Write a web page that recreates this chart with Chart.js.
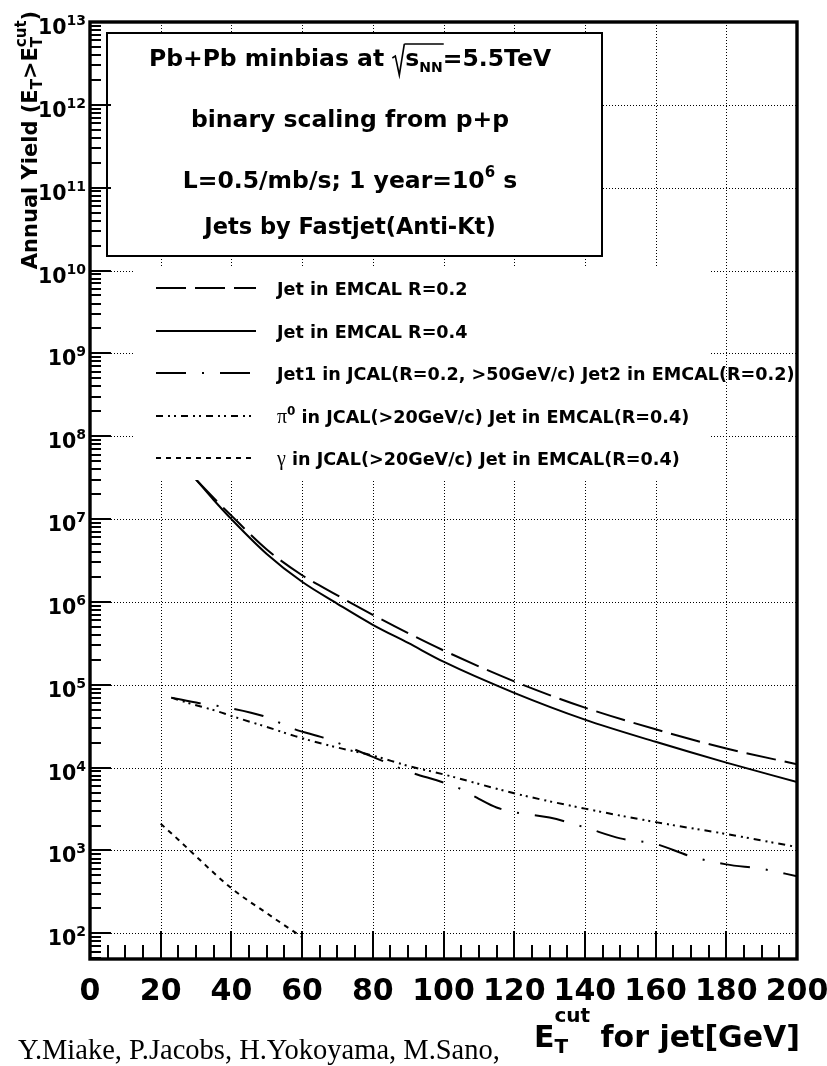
<!DOCTYPE html>
<html>
<head>
<meta charset="utf-8">
<script src="https://cdn.jsdelivr.net/npm/chart.js@4.4.1/dist/chart.umd.min.js"></script>
<style>
  html, body { margin: 0; padding: 0; background: #fff; }
  #wrap { width: 827px; height: 1066px; }
</style>
</head>
<body>
<div id="wrap"><canvas id="myChart" width="827" height="1066"></canvas></div>
<script>
// E_T cut [GeV] vs annual yield
const etJet02 = [30, 35, 40, 50, 60, 70, 80, 90, 100, 120, 140, 160, 180, 200];
const yJet02 = [3.0e7, 1.8e7, 1.1e7, 4.3e6, 2.1e6, 1.2e6, 7.0e5, 4.2e5, 2.6e5, 1.1e5, 5.3e4, 2.9e4, 1.7e4, 1.1e4];

const etJet04 = [30, 35, 40, 50, 60, 70, 80, 90, 100, 120, 140, 160, 180, 200];
const yJet04 = [3.0e7, 1.7e7, 1.0e7, 3.8e6, 1.75e6, 9.5e5, 5.3e5, 3.2e5, 1.9e5, 8.0e4, 3.8e4, 2.05e4, 1.15e4, 6.7e3];

const etJcal = [23, 31, 40, 49, 58, 66, 80, 90, 100, 105, 110, 115, 120, 130, 140, 150, 160, 170, 180, 190, 200];
const yJcal = [7.0e4, 6.0e4, 5.2e4, 4.2e4, 2.9e4, 2.3e4, 1.35e4, 9.0e3, 6.6e3, 5.5e3, 4.2e3, 3.3e3, 2.9e3, 2.5e3, 1.9e3, 1.4e3, 1.2e3, 8.5e2, 6.8e2, 6.0e2, 4.9e2];

const etPi0 = [23, 28, 36, 40, 50, 58, 70, 80, 90, 100, 120, 140, 160, 180, 200];
const yPi0 = [7.0e4, 6.0e4, 4.8e4, 4.2e4, 3.1e4, 2.4e4, 1.75e4, 1.4e4, 1.05e4, 8.3e3, 4.9e3, 3.2e3, 2.2e3, 1.58e3, 1.1e3];

const etGamma = [20, 25, 30, 40, 50, 60];
const yGamma = [2.1e3, 1.35e3, 8.5e2, 3.5e2, 1.75e2, 9.0e1];

const xTicks = [0, 20, 40, 60, 80, 100, 120, 140, 160, 180, 200];
const yDecades = [2, 3, 4, 5, 6, 7, 8, 9, 10, 11, 12, 13];

const SANS = '"DejaVu Sans", Verdana, sans-serif';
const SERIF = '"Liberation Serif", "Times New Roman", serif';

const dashJet02 = [30, 9];
const dashJcal = [30, 16, 2, 16];
const dashPi0 = [7, 5, 2, 4, 2, 5];
const dashGamma = [5, 5];

function pts(xs, ys) {
  return xs.map((x, i) => ({ x: x, y: ys[i] }));
}

// rich text: runs of {t, size, dy, family, weight, stack, over} or {rad}
function runFont(r) {
  return (r.weight || 'bold') + ' ' + r.size + 'px ' + (r.family || SANS);
}
function richWidth(ctx, runs) {
  let cx = 0, start = 0, end = 0;
  runs.forEach(r => {
    ctx.font = runFont(r);
    const w = r.rad ? r.rad : ctx.measureText(r.t).width;
    if (r.stack) { cx = start; }
    const prevEnd = end;
    start = cx;
    end = Math.max(end, cx + w);
    cx = r.stack ? Math.max(cx + w, prevEnd) : cx + w;
  });
  return Math.max(cx, end);
}
function drawRich(ctx, runs, x, y, align) {
  const w = richWidth(ctx, runs);
  let cx = align === 'center' ? x - w / 2 : align === 'right' ? x - w : x;
  let start = cx, end = cx, overStart = null, overEnd = null, overY = 0;
  ctx.textAlign = 'left';
  ctx.textBaseline = 'alphabetic';
  runs.forEach(r => {
    if (r.rad) {
      ctx.save();
      ctx.lineWidth = 1.6;
      ctx.beginPath();
      ctx.moveTo(cx, y - 8);
      ctx.lineTo(cx + 3, y - 10);
      ctx.lineTo(cx + 7, y + 9);
      ctx.lineTo(cx + r.rad - 1, y - 22);
      ctx.stroke();
      ctx.restore();
      overStart = cx + r.rad - 1;
      overY = y - 22;
      start = cx;
      cx += r.rad;
      end = cx;
      return;
    }
    ctx.font = runFont(r);
    const tw = ctx.measureText(r.t).width;
    if (r.stack) { cx = start; }
    ctx.fillText(r.t, cx, y + (r.dy || 0));
    if (r.over) { overEnd = cx + tw; }
    const prevEnd = end;
    start = cx;
    end = Math.max(end, cx + tw);
    cx = r.stack ? Math.max(cx + tw, prevEnd) : cx + tw;
  });
  if (overStart !== null && overEnd !== null) {
    ctx.save();
    ctx.lineWidth = 1.6;
    ctx.beginPath();
    ctx.moveTo(overStart, overY);
    ctx.lineTo(overEnd + 1, overY);
    ctx.stroke();
    ctx.restore();
  }
}

const titleLines = [
  [{ t: 'Pb+Pb minbias at ', size: 23.5 }, { rad: 13 }, { t: 's', size: 23.5, over: true }, { t: 'NN', size: 14, dy: 6, over: true }, { t: '=5.5TeV', size: 23.5 }],
  [{ t: 'binary scaling from p+p', size: 23.5 }],
  [{ t: 'L=0.5/mb/s; 1 year=10', size: 23.5 }, { t: '6', size: 15, dy: -11 }, { t: ' s', size: 23.5 }],
  [{ t: 'Jets by Fastjet(Anti-Kt)', size: 22.5 }]
];
const titleBaselines = [66, 127, 188, 234];

const legendRuns = [
  [{ t: 'Jet in EMCAL R=0.2', size: 17.6 }],
  [{ t: 'Jet in EMCAL R=0.4', size: 17.6 }],
  [{ t: 'Jet1 in JCAL(R=0.2, >50GeV/c) Jet2 in EMCAL(R=0.2)', size: 17.6 }],
  [{ t: '\u03c0', size: 20, family: SERIF, weight: 'normal' }, { t: '0', size: 12, dy: -8 }, { t: ' in JCAL(>20GeV/c) Jet in EMCAL(R=0.4)', size: 17.6 }],
  [{ t: '\u03b3', size: 20, family: SERIF, weight: 'normal' }, { t: ' in JCAL(>20GeV/c) Jet in EMCAL(R=0.4)', size: 17.6 }]
];
const legendDash = [dashJet02, [], dashJcal, dashPi0, dashGamma];
const legendY = [288, 331, 373, 416, 458];

const rootStyle = {
  id: 'rootStyle',
  beforeDatasetsDraw(chart) {
    const ctx = chart.ctx, a = chart.chartArea;
    const xs = chart.scales.x, ys = chart.scales.y;
    ctx.save();
    ctx.strokeStyle = '#000';
    ctx.lineWidth = 1;
    ctx.setLineDash([1, 2]);
    yDecades.forEach(e => {
      if (e >= 13) return;
      const y = Math.round(ys.getPixelForValue(Math.pow(10, e))) + 0.5;
      ctx.beginPath(); ctx.moveTo(a.left, y); ctx.lineTo(a.right, y); ctx.stroke();
    });
    xTicks.forEach(v => {
      if (v === 0 || v === 200) return;
      const x = Math.round(xs.getPixelForValue(v)) + 0.5;
      ctx.beginPath(); ctx.moveTo(x, a.top); ctx.lineTo(x, a.bottom); ctx.stroke();
    });
    ctx.restore();
  },
  afterDatasetsDraw(chart) {
    const ctx = chart.ctx, a = chart.chartArea;
    const xs = chart.scales.x, ys = chart.scales.y;
    ctx.save();
    ctx.strokeStyle = '#000';

    // title pave
    ctx.fillStyle = '#fff';
    ctx.fillRect(107, 33, 495, 223);
    ctx.lineWidth = 2;
    ctx.strokeRect(107, 33, 495, 223);
    ctx.fillStyle = '#000';
    titleLines.forEach((runs, i) => drawRich(ctx, runs, 350, titleBaselines[i], 'center'));

    // legend (white, no border)
    ctx.fillStyle = '#fff';
    ctx.fillRect(133, 268, 577, 212);
    ctx.fillStyle = '#000';
    legendY.forEach((y, i) => {
      ctx.save();
      ctx.lineWidth = 2;
      ctx.setLineDash(legendDash[i]);
      ctx.beginPath(); ctx.moveTo(156, y); ctx.lineTo(256, y); ctx.stroke();
      ctx.restore();
      drawRich(ctx, legendRuns[i], 277, y + 6.5, 'left');
    });

    // frame
    ctx.lineWidth = 3.4;
    ctx.strokeRect(a.left, a.top, a.right - a.left, a.bottom - a.top);

    // y ticks inside the frame
    ctx.lineWidth = 2;
    for (let e = 1; e <= 12; e++) {
      for (let k = 1; k <= 9; k++) {
        const v = k * Math.pow(10, e);
        if (v < ys.min || v > ys.max) continue;
        const y = Math.round(ys.getPixelForValue(v));
        const len = k === 1 ? 21 : 11;
        ctx.beginPath(); ctx.moveTo(a.left, y); ctx.lineTo(a.left + len, y); ctx.stroke();
      }
    }
    // x ticks inside the frame
    for (let v = 5; v < 200; v += 5) {
      const x = Math.round(xs.getPixelForValue(v));
      const len = v % 20 === 0 ? 28 : 14;
      ctx.beginPath(); ctx.moveTo(x, a.bottom); ctx.lineTo(x, a.bottom - len); ctx.stroke();
    }

    // y tick labels 10^n
    yDecades.forEach(e => {
      const y = ys.getPixelForValue(Math.pow(10, e));
      drawRich(ctx, [{ t: '10', size: 20.5 }, { t: String(e), size: 14, dy: -9 }], 86, y + 12, 'right');
    });

    // y title (rotated)
    ctx.save();
    ctx.translate(37, 140);
    ctx.rotate(-Math.PI / 2);
    drawRich(ctx, [
      { t: 'Annual Yield (E', size: 21 },
      { t: 'T', size: 15, dy: 5 },
      { t: '>E', size: 21 },
      { t: 'T', size: 15, dy: 5 },
      { t: 'cut', size: 15, dy: -11, stack: true },
      { t: ')', size: 21 }
    ], 0, 0, 'center');
    ctx.restore();

    // x title
    drawRich(ctx, [
      { t: 'E', size: 30 },
      { t: 'T', size: 20, dy: 6 },
      { t: 'cut', size: 20, dy: -25, stack: true },
      { t: ' for jet[GeV]', size: 30 }
    ], 800, 1047, 'right');

    // author line
    ctx.font = '28.5px ' + SERIF;
    ctx.textAlign = 'left';
    ctx.textBaseline = 'alphabetic';
    ctx.fillText('Y.Miake, P.Jacobs, H.Yokoyama, M.Sano,', 18, 1059);
    ctx.restore();
  }
};

const ctx = document.getElementById('myChart').getContext('2d');

function lineSet(label, xs, ys, dash) {
  return {
    label: label,
    data: pts(xs, ys),
    borderColor: '#000',
    borderWidth: 2,
    borderDash: dash,
    pointRadius: 0,
    fill: false,
    cubicInterpolationMode: 'monotone'
  };
}

const myChart = new Chart(ctx, {
  type: 'line',
  data: {
    datasets: [
      lineSet('Jet in EMCAL R=0.2', etJet02, yJet02, dashJet02),
      lineSet('Jet in EMCAL R=0.4', etJet04, yJet04, []),
      lineSet('Jet1 in JCAL(R=0.2, >50GeV/c) Jet2 in EMCAL(R=0.2)', etJcal, yJcal, dashJcal),
      lineSet('pi0 in JCAL(>20GeV/c) Jet in EMCAL(R=0.4)', etPi0, yPi0, dashPi0),
      lineSet('gamma in JCAL(>20GeV/c) Jet in EMCAL(R=0.4)', etGamma, yGamma, dashGamma)
    ]
  },
  options: {
    responsive: false,
    animation: false,
    devicePixelRatio: 1,
    layout: { padding: { top: 22, right: 30, left: 0, bottom: 0 } },
    plugins: { legend: { display: false }, tooltip: { enabled: false } },
    scales: {
      x: {
        type: 'linear',
        min: 0,
        max: 200,
        afterBuildTicks: s => { s.ticks = xTicks.map(v => ({ value: v })); },
        afterFit: s => { s.height = 107; s.paddingLeft = 0; s.paddingRight = 0; },
        grid: { display: false, drawTicks: false },
        border: { display: false },
        ticks: {
          color: '#000',
          padding: 15,
          maxRotation: 0,
          font: { family: SANS, weight: 'bold', size: 30 }
        }
      },
      y: {
        type: 'logarithmic',
        min: 49,
        max: 1e13,
        afterFit: s => { s.width = 90; s.paddingTop = 0; s.paddingBottom = 0; },
        grid: { display: false, drawTicks: false },
        border: { display: false },
        ticks: { display: false }
      }
    }
  },
  plugins: [rootStyle]
});
</script>
</body>
</html>
